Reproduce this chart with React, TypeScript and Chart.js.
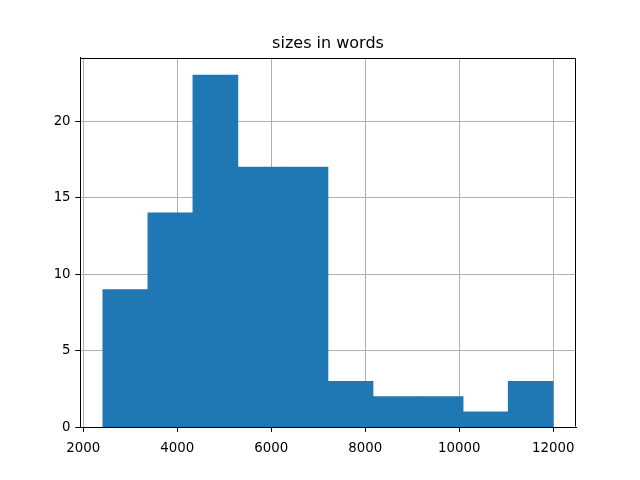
import React, { useEffect, useRef } from "react";
import { Chart, registerables } from "chart.js";

Chart.register(...registerables);

const titleText = "sizes in words";
// histogram bin centers (words) and counts
const binCenters = [2894, 3853, 4811, 5770, 6728, 7687, 8645, 9604, 10562, 11521];
const counts = [9, 14, 23, 17, 17, 3, 2, 2, 1, 3];
const xTickValues = [2000, 4000, 6000, 8000, 10000, 12000];
const yTickValues = [0, 5, 10, 15, 20];
const xMin = 1930;
const xMax = 12485;
const yMax = 24.15;

const frame = {
  id: "frame",
  afterLayout(chart: any) {
    const tb = chart.titleBlock;
    if (tb) {
      tb.left = chart.chartArea.left;
      tb.right = chart.chartArea.right;
      tb.width = tb.right - tb.left;
    }
  },
  afterDraw(chart: any) {
    const { ctx, chartArea } = chart;
    ctx.save();
    ctx.strokeStyle = "#000";
    ctx.lineWidth = 1;
    const l = Math.round(chartArea.left) + 0.5;
    const t = Math.round(chartArea.top) + 0.5;
    const r = Math.round(chartArea.right) - 0.5;
    const b = Math.round(chartArea.bottom) - 0.5;
    ctx.beginPath();
    ctx.moveTo(l, t);
    ctx.lineTo(r, t);
    ctx.lineTo(r, b);
    ctx.moveTo(l, t);
    ctx.lineTo(l, b);
    ctx.stroke();
    ctx.restore();
  },
};

export default function App() {
  const ref = useRef<HTMLCanvasElement>(null);
  useEffect(() => {
    document.body.style.margin = "0";
    const tickFont = { family: "DejaVu Sans", size: 13.33 };
    const chart = new Chart(ref.current!, {
      type: "bar",
      data: {
        datasets: [
          {
            data: binCenters.map((x, i) => ({ x, y: counts[i] })),
            backgroundColor: "#1f77b4",
            borderWidth: 0,
            barPercentage: 1,
            categoryPercentage: 1,
          },
        ],
      },
      options: {
        animation: false,
        responsive: false,
        layout: { padding: { left: 0, right: 64, top: 0, bottom: 0 } },
        plugins: {
          legend: { display: false },
          tooltip: { enabled: false },
          title: {
            display: true,
            text: titleText,
            color: "#000",
            font: { family: "DejaVu Sans", size: 16, weight: "normal" },
            padding: { top: 34.4, bottom: 4.0 },
          },
        },
        scales: {
          x: {
            type: "linear",
            min: xMin,
            max: xMax,
            offset: false,
            z: 1,
            grid: {
              color: "#b0b0b0",
              lineWidth: 1,
              tickColor: "#000",
              tickLength: 4.7,
              offset: false,
            },
            border: { display: true, color: "#000", width: 1 },
            ticks: {
              color: "#000",
              font: tickFont,
              padding: 9,
              maxRotation: 0,
              autoSkip: false,
              callback: (v: any) => String(v),
            },
            afterBuildTicks: (s: any) => {
              s.ticks = xTickValues.map((v) => ({ value: v }));
            },
            afterFit: (s: any) => {
              s.height = 52.8;
            },
          },
          y: {
            min: 0,
            max: yMax,
            z: 1,
            grid: {
              color: "#b0b0b0",
              lineWidth: 1,
              tickColor: "#000",
              tickLength: 4.7,
            },
            border: { display: true, color: "#000", width: 1 },
            ticks: {
              color: "#000",
              font: tickFont,
              padding: 4.7,
              autoSkip: false,
              callback: (v: any) => String(v),
            },
            afterBuildTicks: (s: any) => {
              s.ticks = yTickValues.map((v) => ({ value: v }));
            },
            afterFit: (s: any) => {
              s.width = 80;
            },
          },
        },
      } as any,
      plugins: [frame],
    });
    return () => chart.destroy();
  }, []);
  return (
    <div style={{ width: 640, height: 480, background: "#fff" }}>
      <canvas ref={ref} width={640} height={480} />
    </div>
  );
}
